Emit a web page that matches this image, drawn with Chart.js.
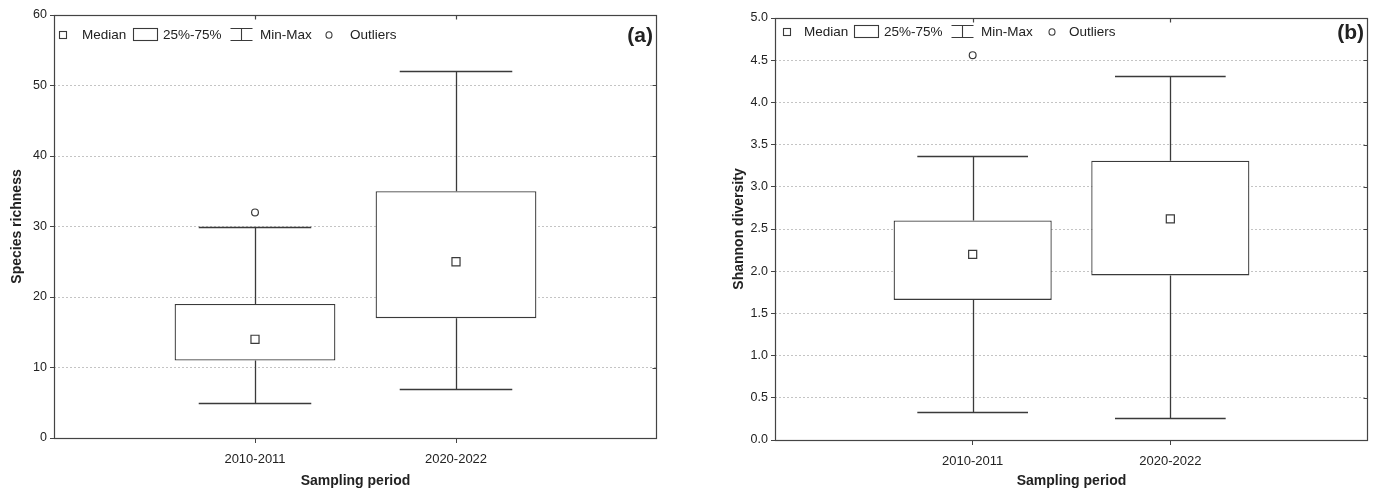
<!DOCTYPE html>
<html><head><meta charset="utf-8">
<script src="https://cdn.jsdelivr.net/npm/chart.js@4"></script>
<style>
html,body{margin:0;padding:0;background:#fff;overflow:hidden}
#wrap{position:relative;width:1380px;height:494px}
canvas{position:absolute;top:0}
</style></head><body>
<div id="wrap">
<canvas id="ca" width="690" height="494" style="left:0"></canvas>
<canvas id="cb" width="690" height="494" style="left:690px"></canvas>
</div>
<script>
// ---- data ----
const categories = ['2010-2011', '2020-2022'];

const richMin      = [5, 7];
const richQ1       = [11, 17];
const richMedian   = [14, 25];
const richQ3       = [19, 35];
const richMax      = [30, 52];
const richOutliers = [32, null];
const richTicks    = [0, 10, 20, 30, 40, 50, 60];

const shanMin      = [0.33, 0.26];
const shanQ1       = [1.66, 1.95];
const shanMedian   = [2.20, 2.62];
const shanQ3       = [2.60, 3.31];
const shanMax      = [3.36, 4.31];
const shanOutliers = [4.56, null];
const shanTicks    = [0, 0.5, 1.0, 1.5, 2.0, 2.5, 3.0, 3.5, 4.0, 4.5, 5.0];

const legendItems = ['Median', '25%-75%', 'Min-Max', 'Outliers'];

// ---- helpers ----
const LINE = '#3a3a3a';
const TEXT = '#222';
const FONT = '"Liberation Sans", Arial, sans-serif';
const pad = arr => [null, ...arr, null];

const whiskerPlugin = {
  id: 'whiskers',
  beforeDatasetsDraw(chart, args, o) {
    const {ctx} = chart;
    const x = chart.scales.x, y = chart.scales.y;
    const meta = chart.getDatasetMeta(0);
    ctx.save();
    ctx.strokeStyle = LINE;
    ctx.lineWidth = 1.3;
    o.min.forEach((mn, i) => {
      const bar = meta.data[i + 1];
      const cx = x.getPixelForValue(i + 1);
      const half = bar.width * 0.35;
      const yMin = Math.round(y.getPixelForValue(mn)) + 0.5;
      const yMax = Math.round(y.getPixelForValue(o.max[i])) + 0.5;
      const yQ1 = y.getPixelForValue(o.q1[i]);
      const yQ3 = y.getPixelForValue(o.q3[i]);
      const xc = Math.round(cx) + 0.5;
      ctx.beginPath();
      ctx.moveTo(xc, yMin); ctx.lineTo(xc, yQ1);
      ctx.moveTo(xc, yQ3); ctx.lineTo(xc, yMax);
      ctx.moveTo(cx - half, yMin); ctx.lineTo(cx + half, yMin);
      ctx.moveTo(cx - half, yMax); ctx.lineTo(cx + half, yMax);
      ctx.stroke();
    });
    ctx.restore();
  }
};

const framePlugin = {
  id: 'frame',
  afterDraw(chart, args, o) {
    const {ctx, chartArea: a} = chart;
    const x = chart.scales.x, y = chart.scales.y;
    ctx.save();
    ctx.strokeStyle = '#444';
    ctx.lineWidth = 1.2;
    const L = Math.round(a.left) + 0.5, R = Math.round(a.right) - 0.5;
    const T = Math.round(a.top) + 0.5, B = Math.round(a.bottom) + 0.5;
    ctx.strokeRect(L, T, R - L, B - T);
    ctx.beginPath();
    // inner ticks on right border and top border
    y.ticks.forEach(t => {
      const py = Math.round(y.getPixelForValue(t.value)) + 0.5;
      ctx.moveTo(R - 4, py); ctx.lineTo(R, py);
    });
    [1, 2].forEach(v => {
      const px = Math.round(x.getPixelForValue(v)) + 0.5;
      ctx.moveTo(px, T); ctx.lineTo(px, T + 4);
    });
    ctx.stroke();

    // legend inside plot
    const ly = a.top + o.dy;
    const lx = a.left;
    ctx.lineWidth = 1.1;
    ctx.strokeStyle = LINE;
    ctx.fillStyle = '#fff';
    // median square
    ctx.strokeRect(Math.round(lx + o.sq) - 3.5, Math.round(ly) - 3.5, 7, 7);
    // box
    ctx.strokeRect(Math.round(lx + 79) + 0.5, Math.round(ly) - 6.5, 24, 12);
    // whisker I
    const wx = Math.round(lx + 176) + 0.5;
    ctx.beginPath();
    ctx.moveTo(wx, Math.round(ly) - 6.5); ctx.lineTo(wx + 22, Math.round(ly) - 6.5);
    ctx.moveTo(wx, Math.round(ly) + 5.5); ctx.lineTo(wx + 22, Math.round(ly) + 5.5);
    ctx.moveTo(wx + 11, Math.round(ly) - 6.5); ctx.lineTo(wx + 11, Math.round(ly) + 5.5);
    ctx.stroke();
    // circle
    ctx.beginPath();
    ctx.ellipse(lx + o.circ, ly, 3, 3.3, 0, 0, Math.PI * 2);
    ctx.stroke();
    // texts
    ctx.fillStyle = TEXT;
    ctx.font = '13.5px ' + FONT;
    ctx.textBaseline = 'middle';
    ctx.textAlign = 'left';
    ctx.fillText(legendItems[0], lx + o.t[0], ly);
    ctx.fillText(legendItems[1], lx + o.t[1], ly);
    ctx.fillText(legendItems[2], lx + o.t[2], ly);
    ctx.fillText(legendItems[3], lx + o.t[3], ly);
    // panel letter
    ctx.font = 'bold 21px ' + FONT;
    ctx.textAlign = 'right';
    ctx.fillText(o.letter, a.right - 4, ly + 1);
    ctx.restore();
  }
};

function makeChart(id, d, lay) {
  const labels = ['', ...categories, ''];
  const lastTick = d.ticks.length - 1;
  return new Chart(document.getElementById(id), {
    data: {
      labels,
      datasets: [
        {
          type: 'bar',
          data: pad(d.q1.map((v, i) => [v, d.q3[i]])),
          backgroundColor: '#fff',
          borderColor: LINE,
          borderWidth: 1.3,
          borderSkipped: false,
          barPercentage: 1.0,
          categoryPercentage: 0.8,
          order: 2
        },
        {
          type: 'line',
          data: pad(d.median),
          showLine: false,
          pointStyle: 'rect',
          pointRadius: 5.7,
          pointBackgroundColor: '#fff',
          pointBorderColor: LINE,
          pointBorderWidth: 1.2,
          order: 1
        },
        {
          type: 'line',
          data: pad(d.outliers),
          showLine: false,
          pointStyle: 'circle',
          pointRadius: 3.4,
          pointBackgroundColor: '#fff',
          pointBorderColor: LINE,
          pointBorderWidth: 1.2,
          order: 1
        }
      ]
    },
    options: {
      responsive: false,
      animation: false,
      devicePixelRatio: 1,
      events: [],
      layout: { padding: { left: 0, right: lay.right, top: lay.top, bottom: 0 } },
      plugins: {
        legend: { display: false },
        tooltip: { enabled: false },
        whiskers: { min: d.min, q1: d.q1, q3: d.q3, max: d.max },
        frame: lay.frame
      },
      scales: {
        x: {
          type: 'category',
          offset: false,
          afterFit: s => { s.height = lay.xh; },
          grid: {
            offset: false,
            drawOnChartArea: false,
            drawTicks: true,
            tickLength: 5,
            tickColor: c => (c.index === 1 || c.index === 2) ? '#444' : 'rgba(0,0,0,0)',
            color: 'rgba(0,0,0,0)'
          },
          border: { display: false },
          ticks: { color: TEXT, font: { family: FONT, size: 13 }, padding: 9, maxRotation: 0, autoSkip: false },
          title: { display: true, text: 'Sampling period', color: TEXT,
                   font: { family: FONT, size: 14, weight: 'bold' }, padding: { top: 0, bottom: 4 } }
        },
        y: {
          min: d.ticks[0],
          max: d.ticks[lastTick],
          afterFit: s => { s.width = lay.yw; },
          afterBuildTicks: s => { s.ticks = d.ticks.map(v => ({ value: v })); },
          grid: {
            color: c => (c.index === 0 || c.index === lastTick) ? 'rgba(0,0,0,0)' : '#c4c4c4',
            lineWidth: 1, drawTicks: true, tickLength: 4, tickColor: '#444'
          },
          border: { display: false, dash: [2, 2] },
          ticks: { color: TEXT, font: { family: FONT, size: 12.5 }, padding: 3,
                   callback: v => d.fmt(v) },
          title: { display: true, text: d.title, color: TEXT,
                   font: { family: FONT, size: 14, weight: 'bold' }, padding: { top: lay.tpad, bottom: 0 } }
        }
      }
    },
    plugins: [whiskerPlugin, framePlugin]
  });
}

makeChart('ca', {
  min: richMin, q1: richQ1, median: richMedian, q3: richQ3, max: richMax, outliers: richOutliers,
  ticks: richTicks, title: 'Species richness', fmt: v => String(v)
}, {
  right: 33, top: 15, xh: 56, yw: 54, tpad: 9,
  frame: { dy: 20, sq: 9, circ: 275, t: [28, 109, 206, 296], letter: '(a)' }
});

makeChart('cb', {
  min: shanMin, q1: shanQ1, median: shanMedian, q3: shanQ3, max: shanMax, outliers: shanOutliers,
  ticks: shanTicks, title: 'Shannon diversity', fmt: v => v.toFixed(1)
}, {
  right: 12, top: 18, xh: 54, yw: 85, tpad: 41,
  frame: { dy: 14, sq: 12, circ: 277, t: [29, 109, 206, 294], letter: '(b)' }
});
</script>
</body></html>
